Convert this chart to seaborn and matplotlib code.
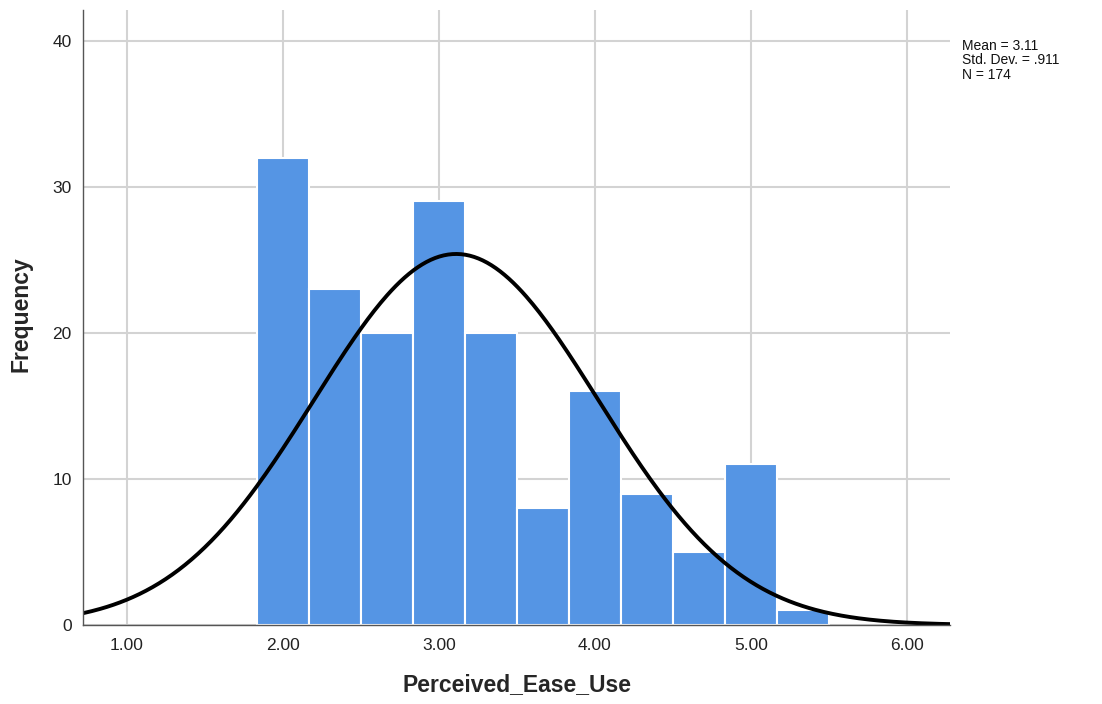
import numpy as np
import pandas as pd
import matplotlib
matplotlib.use("Agg")
import matplotlib.pyplot as plt
import seaborn as sns

# Histogram of Perceived_Ease_Use (binned frequencies)
bin_start = 1.8333
bin_width = 1 / 3
counts = [32, 23, 20, 29, 20, 8, 16, 9, 5, 11, 1]
mean_val = 3.11
sd_val = 0.911
n_obs = 174
x_ticks = [1, 2, 3, 4, 5, 6]
x_tick_labels = ["1.00", "2.00", "3.00", "4.00", "5.00", "6.00"]
y_ticks = [0, 10, 20, 30, 40]

sns.set_theme(style="white")
plt.rcParams["font.family"] = ["Liberation Sans", "DejaVu Sans"]

edges = bin_start + bin_width * np.arange(len(counts) + 1)
centers = (edges[:-1] + edges[1:]) / 2
df = pd.DataFrame({"value": centers, "count": counts})

fig = plt.figure(figsize=(11.02, 7.04), dpi=100)
ax = fig.add_axes([0.0753, 0.1122, 0.7868, 0.8736])

xlim = (0.718, 6.276)
ylim = (0, 42.1)

ax.set_axisbelow(True)
ax.grid(True, color="#d3d3d3", linewidth=1.5)

sns.histplot(data=df, x="value", weights="count", binwidth=bin_width,
             binrange=(float(edges[0]), float(edges[-1])), ax=ax,
             color="#5595e4", alpha=1, edgecolor="white", linewidth=1.5)

# Normal curve scaled to frequency
xs = np.linspace(xlim[0], xlim[1], 400)
ys = n_obs * bin_width * np.exp(-0.5 * ((xs - mean_val) / sd_val) ** 2) / (sd_val * np.sqrt(2 * np.pi))
sns.lineplot(x=xs, y=ys, ax=ax, color="black", linewidth=2.8)

ax.set_xlim(*xlim)
ax.set_ylim(*ylim)
ax.set_xticks(x_ticks)
ax.set_xticklabels(x_tick_labels)
ax.set_yticks(y_ticks)
ax.tick_params(axis="x", length=0, labelsize=12.5, colors="#222222", pad=9)
ax.tick_params(axis="y", length=0, labelsize=12.5, colors="#222222", pad=8)

for side in ["top", "right"]:
    ax.spines[side].set_visible(False)
for side in ["left", "bottom"]:
    ax.spines[side].set_color("#555555")
    ax.spines[side].set_linewidth(1.0)

ax.set_xlabel("Perceived_Ease_Use", fontsize=16.5, fontweight="bold")
ax.xaxis.set_label_coords(0.5, -0.078)
ax.set_ylabel("Frequency", fontsize=16.5, fontweight="bold")
ax.yaxis.set_label_coords(-0.058, 0.505)

fig.text(0.873, 0.945, f"Mean = {mean_val:.2f}\nStd. Dev. = .911\nN = {n_obs}",
         fontsize=10, va="top", ha="left", color="#111111", linespacing=1.05)

fig.savefig("out.png", dpi=100)
